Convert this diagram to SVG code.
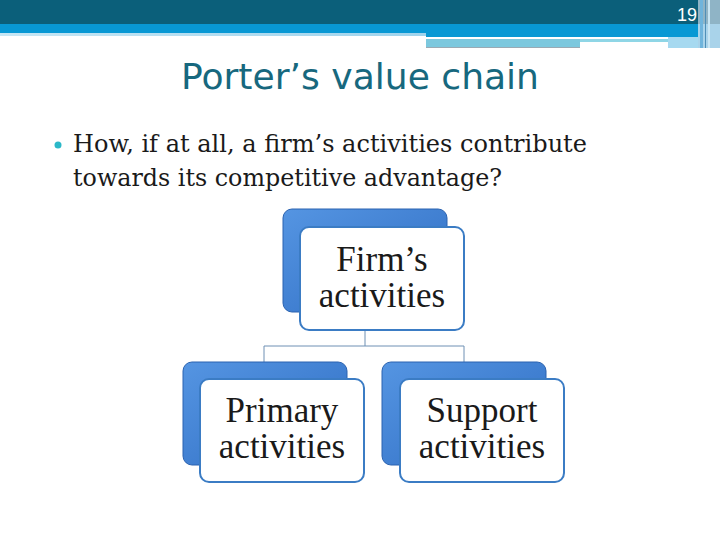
<svg xmlns="http://www.w3.org/2000/svg" width="720" height="540" viewBox="0 0 720 540">
<defs>
<linearGradient id="back" x1="0" y1="0" x2="1" y2="1">
<stop offset="0" stop-color="#5595e2"/>
<stop offset="1" stop-color="#2e6cc2"/>
</linearGradient>
<linearGradient id="pale" x1="0" y1="0" x2="1" y2="0">
<stop offset="0" stop-color="#c6e6f4"/>
<stop offset="1" stop-color="#9fd3ec"/>
</linearGradient>
<style>
.back{fill:url(#back);stroke:#2a62b0;stroke-width:1}
.front{fill:#ffffff;stroke:#3b7cc4;stroke-width:2}
.lbl{font-family:"Liberation Serif","Times New Roman",serif;font-size:35px;fill:#1a1a1a;text-anchor:middle}
.conn{stroke:#6f90b4;stroke-width:1;fill:none}
.body{font-family:"DejaVu Serif",Georgia,serif;font-size:23.5px;fill:#1a1a1a}
</style>
</defs>
<rect width="720" height="540" fill="#ffffff"/>
<g id="header">
<rect x="0" y="0" width="720" height="24" fill="#0b5f7a"/>
<rect x="0" y="24" width="720" height="9" fill="#0898d4"/>
<rect x="0" y="33" width="426" height="3" fill="url(#pale)"/>
<rect x="426" y="33" width="272" height="4" fill="#0898d4"/>
<rect x="668" y="37" width="30" height="11" fill="#a6d9f0"/>
<rect x="426" y="37" width="242" height="2" fill="#ffffff"/>
<rect x="426" y="39" width="242" height="3" fill="#8fd6e6"/>
<rect x="426" y="39" width="154" height="8" fill="#7cc8de"/>
<rect x="426" y="47" width="154" height="1" fill="#9aaab4"/>
<rect x="698" y="0" width="22" height="24" fill="#8fb4c6"/>
<rect x="698" y="24" width="22" height="24" fill="#a9d3ea"/>
<rect x="700" y="0" width="3" height="48" fill="#6fb4dc"/>
<rect x="705" y="0" width="1" height="48" fill="#4f8fb8"/>
<rect x="708" y="0" width="2" height="48" fill="#c9e6f4"/>
<text x="697" y="21" font-family="'Liberation Sans Narrow','Liberation Sans',sans-serif" font-size="18" fill="#ffffff" text-anchor="end">19</text>
</g>
<text id="title" x="360" y="89" font-family="'DejaVu Sans',Verdana,sans-serif" font-size="35" fill="#17687e" text-anchor="middle" textLength="358" lengthAdjust="spacingAndGlyphs">Porter’s value chain</text>
<g id="bullet">
<circle cx="58" cy="145" r="3.5" fill="#2bb8c8"/>
<text class="body" x="73" y="152" textLength="514" lengthAdjust="spacingAndGlyphs">How, if at all, a firm’s activities contribute</text>
<text class="body" x="73" y="186" textLength="429" lengthAdjust="spacingAndGlyphs">towards its competitive advantage?</text>
</g>
<g id="connectors">
<path class="conn" d="M365,330 V346 M264,346 H464 M264,346 V362 M464,346 V362"/>
</g>
<g id="firm">
<rect class="back" x="283" y="209" width="164" height="103" rx="9"/>
<rect class="front" x="300" y="227" width="164" height="103" rx="9"/>
<text class="lbl" x="382" y="271">Firm’s</text>
<text class="lbl" x="382" y="307">activities</text>
</g>
<g id="primary">
<rect class="back" x="183" y="362" width="164" height="103" rx="9"/>
<rect class="front" x="200" y="379" width="164" height="103" rx="9"/>
<text class="lbl" x="282" y="422">Primary</text>
<text class="lbl" x="282" y="458">activities</text>
</g>
<g id="support">
<rect class="back" x="382" y="362" width="164" height="103" rx="9"/>
<rect class="front" x="400" y="379" width="164" height="103" rx="9"/>
<text class="lbl" x="482" y="422">Support</text>
<text class="lbl" x="482" y="458">activities</text>
</g>
</svg>
